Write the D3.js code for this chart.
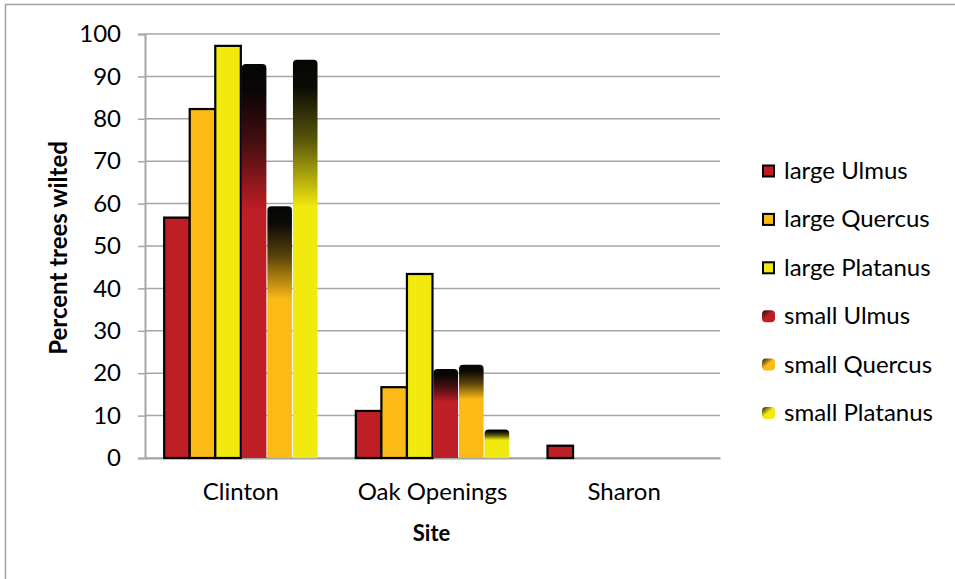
<!DOCTYPE html>
<html>
<head>
<meta charset="utf-8">
<script src="https://cdn.jsdelivr.net/npm/d3@7"></script>
<style>
  html, body { margin: 0; padding: 0; background: #fff; }
  svg { display: block; }
  text { font-family: Lato, "Open Sans", sans-serif; fill: #000; }
</style>
</head>
<body>
<svg id="chart" width="955" height="579"></svg>
<script>
// Sites along the x axis
const sites = ["Clinton", "Oak Openings", "Sharon"];

// Series names (legend order)
const seriesNames = ["large Ulmus", "large Quercus", "large Platanus",
                     "small Ulmus", "small Quercus", "small Platanus"];

// Percent trees wilted, one array per series, in site order
const largeUlmus    = [56.7, 11.1, 2.9];
const largeQuercus  = [82.3, 16.7, 0];
const largePlatanus = [97.2, 43.4, 0];
const smallUlmus    = [92.9, 21.0, 0];
const smallQuercus  = [59.4, 22.0, 0];
const smallPlatanus = [93.9, 6.7, 0];

const yTicks = [0, 10, 20, 30, 40, 50, 60, 70, 80, 90, 100];

const seriesValues = [largeUlmus, largeQuercus, largePlatanus,
                      smallUlmus, smallQuercus, smallPlatanus];
const baseColors = ["#BE1E25", "#FBBA15", "#F2E90F", "#BE1E25", "#FBBA15", "#F2E90F"];

const FONT = 24;

const svg = d3.select("#chart");

// outer frame
svg.append("rect")
  .attr("x", 5.5).attr("y", 4.5)
  .attr("width", 970).attr("height", 600)
  .attr("fill", "none").attr("stroke", "#A3A3A3").attr("stroke-width", 1.5);

const plot = { left: 145, right: 720, top: 34, bottom: 458 };

const x = d3.scaleBand().domain(sites).range([plot.left, plot.right]).padding(0);
const xs = d3.scaleBand().domain(seriesNames).range([0, x.bandwidth()])
  .paddingInner(0).paddingOuter(0.75);
const y = d3.scaleLinear().domain([0, 100]).range([plot.bottom, plot.top]);

// gradients for the "small" series: dark top fading into the base colour
const defs = svg.append("defs");
const mix = (c, t) => d3.interpolateRgb("#050505", c)(t);
seriesNames.forEach((s, i) => {
  if (i < 3) return;
  const g = defs.append("linearGradient").attr("id", "grad" + i)
    .attr("x1", 0).attr("y1", 0).attr("x2", 0).attr("y2", 1);
  g.append("stop").attr("offset", 0).attr("stop-color", "#050505");
  g.append("stop").attr("offset", 0.07).attr("stop-color", mix(baseColors[i], 0.03));
  g.append("stop").attr("offset", 0.2).attr("stop-color", mix(baseColors[i], 0.35));
  g.append("stop").attr("offset", 0.37).attr("stop-color", baseColors[i]);
  g.append("stop").attr("offset", 1).attr("stop-color", baseColors[i]);
  const lg = defs.append("linearGradient").attr("id", "lgrad" + i)
    .attr("x1", 0).attr("y1", 0).attr("x2", 0.8).attr("y2", 0.9);
  lg.append("stop").attr("offset", 0).attr("stop-color", "#111");
  lg.append("stop").attr("offset", 0.55).attr("stop-color", baseColors[i]);
  lg.append("stop").attr("offset", 1).attr("stop-color", baseColors[i]);
});

// gridlines
svg.append("g").selectAll("line").data(yTicks).join("line")
  .attr("x1", plot.left).attr("x2", plot.right)
  .attr("y1", d => y(d)).attr("y2", d => y(d))
  .attr("stroke", "#A6A6A6").attr("stroke-width", 1.5);

// y axis
const yAxis = svg.append("g")
  .attr("transform", `translate(${plot.left},0)`)
  .call(d3.axisLeft(y).tickValues(yTicks).tickSize(7).tickPadding(17));
yAxis.select(".domain").attr("stroke", "#A6A6A6").attr("stroke-width", 2);
yAxis.selectAll(".tick line").attr("stroke", "#A6A6A6").attr("stroke-width", 1.5);
yAxis.selectAll(".tick text")
  .attr("font-family", "Lato, 'Open Sans', sans-serif")
  .attr("font-size", FONT).attr("fill", "#000");

// x axis
const xAxis = svg.append("g")
  .attr("transform", `translate(0,${plot.bottom})`)
  .call(d3.axisBottom(x).tickSize(0).tickPadding(25));
xAxis.select(".domain").attr("stroke", "#A6A6A6").attr("stroke-width", 2);
xAxis.selectAll(".tick text")
  .attr("font-family", "Lato, 'Open Sans', sans-serif")
  .attr("font-size", FONT).attr("fill", "#000");

// small bars: rounded top corners
function topRounded(x0, y0, w, h, r) {
  r = Math.min(r, h / 2, w / 2);
  return `M${x0},${y0 + h}V${y0 + r}Q${x0},${y0} ${x0 + r},${y0}H${x0 + w - r}Q${x0 + w},${y0} ${x0 + w},${y0 + r}V${y0 + h}Z`;
}

const bars = svg.append("g");
seriesNames.forEach((s, i) => {
  const data = sites.map((site, j) => ({ site, v: seriesValues[i][j] })).filter(d => d.v > 0);
  if (i < 3) {
    bars.append("g").selectAll("rect").data(data).join("rect")
      .attr("x", d => x(d.site) + xs(s))
      .attr("y", d => y(d.v))
      .attr("width", xs.bandwidth())
      .attr("height", d => y(0) - y(d.v))
      .attr("fill", baseColors[i])
      .attr("stroke", "#000").attr("stroke-width", 2.2);
  } else {
    bars.append("g").selectAll("path").data(data).join("path")
      .attr("d", d => topRounded(x(d.site) + xs(s) + 1, y(d.v), xs.bandwidth() - 1, y(0) - y(d.v), 4))
      .attr("fill", `url(#grad${i})`);
  }
});

// axis titles
svg.append("text")
  .attr("transform", `translate(67,${(plot.top + plot.bottom) / 2 + 2}) rotate(-90)`)
  .attr("text-anchor", "middle")
  .attr("font-size", FONT).attr("font-weight", "bold")
  .text("Percent trees wilted");

svg.append("text")
  .attr("x", (plot.left + plot.right) / 2 - 1).attr("y", 541)
  .attr("text-anchor", "middle")
  .attr("font-size", 22).attr("font-weight", "bold")
  .text("Site");

// legend
const legend = svg.append("g").attr("transform", "translate(762,0)");
const ly = d3.scalePoint().domain(seriesNames).range([171, 413]);
seriesNames.forEach((s, i) => {
  const cy = ly(s);
  if (i < 3) {
    legend.append("rect")
      .attr("x", 1).attr("y", cy - 5.5).attr("width", 11).attr("height", 11)
      .attr("fill", baseColors[i]).attr("stroke", "#000").attr("stroke-width", 2);
  } else {
    legend.append("rect")
      .attr("x", 0).attr("y", cy - 6).attr("width", 13).attr("height", 12)
      .attr("rx", 4).attr("fill", `url(#lgrad${i})`);
  }
  legend.append("text")
    .attr("x", 22).attr("y", cy + 8)
    .attr("font-size", FONT)
    .text(s);
});
</script>
</body>
</html>
